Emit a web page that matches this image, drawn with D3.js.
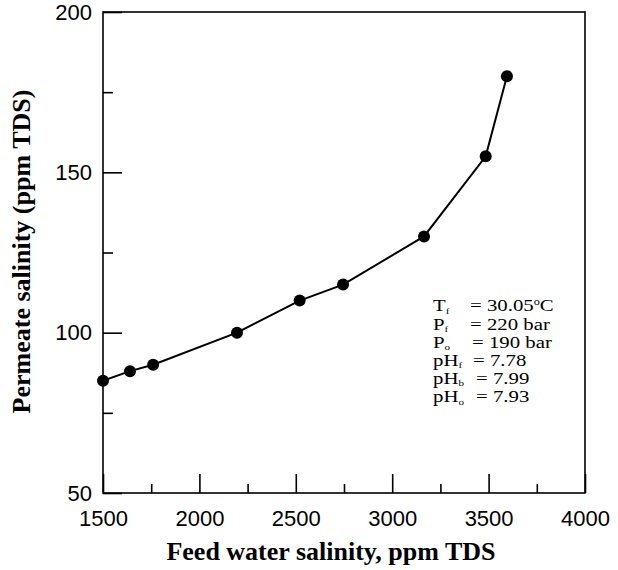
<!DOCTYPE html>
<html>
<head>
<meta charset="utf-8">
<script src="https://cdn.jsdelivr.net/npm/d3@7/dist/d3.min.js"></script>
<style>
  html, body { margin: 0; padding: 0; background: #fff; }
  svg { display: block; }
</style>
</head>
<body>
<svg id="chart" width="618" height="570"></svg>
<script>
// ---- data ----
const feedSalinity = [1500, 1640, 1760, 2195, 2520, 2745, 3165, 3485, 3595];
const permeateSalinity = [85, 88, 90, 100, 110, 115, 130, 155, 180];
const xMajorTicks = [1500, 2000, 2500, 3000, 3500, 4000];
const xMinorTicks = [1750, 2250, 2750, 3250, 3750];
const yMajorTicks = [50, 100, 150, 200];
const yMinorTicks = [75, 125, 175];
const conditions = [
  { base: "T",  sub: "f", value: "= 30.05", sup: "o", tail: "C" },
  { base: "P",  sub: "f", value: "= 220 bar" },
  { base: "P",  sub: "o", value: "= 190 bar" },
  { base: "pH", sub: "f", value: "= 7.78" },
  { base: "pH", sub: "b", value: "= 7.99" },
  { base: "pH", sub: "o", value: "= 7.93" }
];

// ---- layout ----
const svg = d3.select("#chart");
const L = 103, R = 585, T = 12, B = 493;

const x = d3.scaleLinear().domain([1500, 4000]).range([L, R]);
const y = d3.scaleLinear().domain([50, 200]).range([B, T]);

const sans = "'Liberation Sans', Arial, sans-serif";
const serif = "'Liberation Serif', 'Times New Roman', serif";

// frame
svg.append("rect")
  .attr("x", L).attr("y", T).attr("width", R - L).attr("height", B - T)
  .attr("fill", "none").attr("stroke", "#000").attr("stroke-width", 1.6);

// x axis
svg.append("g").attr("transform", `translate(0,${B})`)
  .call(d3.axisBottom(x).tickValues(xMajorTicks).tickSize(-19).tickPadding(17.5).tickFormat(d3.format("d")));
svg.append("g").attr("transform", `translate(0,${B})`)
  .call(d3.axisBottom(x).tickValues(xMinorTicks).tickSize(-9).tickFormat(""));

// y axis
svg.append("g").attr("transform", `translate(${L},0)`)
  .call(d3.axisLeft(y).tickValues(yMajorTicks).tickSize(-19).tickPadding(11).tickFormat(d3.format("d")));
svg.append("g").attr("transform", `translate(${L},0)`)
  .call(d3.axisLeft(y).tickValues(yMinorTicks).tickSize(-10).tickFormat(""));

svg.selectAll(".domain").remove();
svg.selectAll(".tick line").attr("stroke", "#000").attr("stroke-width", 1.6);
svg.selectAll(".tick text").attr("font-family", sans).attr("font-size", 22).attr("fill", "#000");

// line + points
const pts = feedSalinity.map((f, i) => [f, permeateSalinity[i]]);
svg.append("path")
  .datum(pts)
  .attr("fill", "none").attr("stroke", "#000").attr("stroke-width", 2)
  .attr("d", d3.line().x(d => x(d[0])).y(d => y(d[1])));
svg.append("g").selectAll("circle").data(pts).join("circle")
  .attr("cx", d => x(d[0])).attr("cy", d => y(d[1])).attr("r", 6).attr("fill", "#000");

// axis titles
svg.append("text")
  .attr("x", 331).attr("y", 560).attr("text-anchor", "middle")
  .attr("font-family", serif).attr("font-weight", "bold").attr("font-size", 26)
  .text("Feed water salinity, ppm TDS");
svg.append("text")
  .attr("transform", `translate(30,251.5) rotate(-90)`).attr("text-anchor", "middle")
  .attr("font-family", serif).attr("font-weight", "bold").attr("font-size", 26)
  .text("Permeate salinity (ppm TDS)");

// conditions annotation (horizontally widened serif text)
const ax0 = 433, sx = 1.3;
const eqX = [470, 470, 472, 473, 476, 476].map(v => ax0 + (v - ax0) / sx);
const ann = svg.append("g")
  .attr("transform", `translate(${ax0},0) scale(${sx},1) translate(${-ax0},0)`)
  .attr("font-family", serif).attr("font-size", 16).attr("fill", "#000");
conditions.forEach((c, i) => {
  const by = 311.5 + i * 18.2;
  const t = ann.append("text").attr("x", ax0).attr("y", by);
  t.append("tspan").text(c.base);
  t.append("tspan").attr("font-size", 8.5).attr("dy", 2.2).text(c.sub);
  const v = ann.append("text").attr("x", eqX[i]).attr("y", by);
  v.append("tspan").text(c.value);
  if (c.sup) {
    v.append("tspan").attr("font-size", 9.5).attr("dy", -6).text(c.sup);
    v.append("tspan").attr("dy", 6).text(c.tail);
  }
});
</script>
</body>
</html>
